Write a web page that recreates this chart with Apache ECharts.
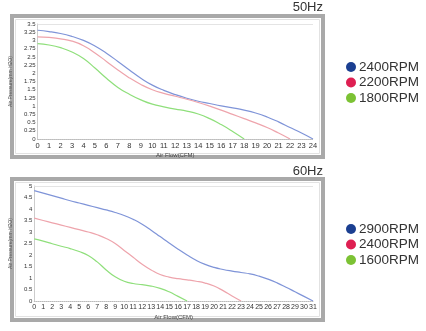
<!DOCTYPE html>
<html><head><meta charset="utf-8">
<script src="https://cdn.jsdelivr.net/npm/echarts@6/dist/echarts.min.js"></script>
<style>html,body{margin:0;padding:0;background:#fff}#c{width:426px;height:331px}</style>
</head><body><div id="c"></div>
<script>
// 50Hz panel
const flow50 = [0,1,2,3,4,5,6,7,8,9,10,11,12,13,14,15,16,17,18,19,20,21,22,23,24];
const rpm2400_50 = [3.31,3.27,3.21,3.12,3.0,2.83,2.61,2.36,2.1,1.85,1.64,1.48,1.35,1.24,1.15,1.08,1.01,0.95,0.88,0.79,0.67,0.52,0.35,0.18,0];
const rpm2200_50 = [3.11,3.09,3.05,2.98,2.84,2.62,2.36,2.1,1.86,1.66,1.5,1.39,1.3,1.21,1.11,1.0,0.88,0.75,0.62,0.49,0.35,0.18,0];
const rpm1800_50 = [2.9,2.86,2.78,2.65,2.45,2.16,1.85,1.57,1.36,1.19,1.06,0.98,0.91,0.85,0.76,0.62,0.44,0.23,0];
const yTicks50 = [0,0.25,0.5,0.75,1,1.25,1.5,1.75,2,2.25,2.5,2.75,3,3.25,3.5];
// 60Hz panel
const flow60 = [0,1,2,3,4,5,6,7,8,9,10,11,12,13,14,15,16,17,18,19,20,21,22,23,24,25,26,27,28,29,30,31];
const rpm2900_60 = [4.8,4.69,4.58,4.47,4.36,4.26,4.16,4.06,3.96,3.85,3.72,3.55,3.34,3.08,2.8,2.52,2.25,2.0,1.77,1.59,1.46,1.37,1.3,1.24,1.18,1.08,0.95,0.79,0.6,0.4,0.2,0];
const rpm2400_60 = [3.6,3.5,3.4,3.3,3.2,3.1,3.0,2.88,2.72,2.5,2.2,1.9,1.6,1.35,1.15,1.04,0.97,0.92,0.86,0.78,0.65,0.45,0.22,0];
const rpm1600_60 = [2.7,2.6,2.49,2.38,2.28,2.15,1.98,1.7,1.35,1.05,0.86,0.76,0.71,0.65,0.55,0.4,0.2,0];
const names50 = ['2400RPM','2200RPM','1800RPM'];
const names60 = ['2900RPM','2400RPM','1600RPM'];
const dotColors = ['#1b3f91','#de1f52','#7cc234'];
const lineColors = ['#7f94d8','#eea4ac','#8fdf7b'];

const pairs = (xs, ys) => ys.map((v,i)=>[xs[i], v]);
const chart = echarts.init(document.getElementById('c'), null, {renderer:'canvas'});

function xAxisCfg(gi, max, fs){
  return {gridIndex:gi, type:'value', min:0, max:max, interval:1,
    name:'Air Flow(CFM)', nameLocation:'middle', nameGap:13,
    nameTextStyle:{fontSize:6, color:'#444', fontFamily:'Liberation Sans'},
    axisLine:{show:true, lineStyle:{color:'#bbb', type:'dotted', width:1}},
    axisTick:{show:false}, splitLine:{show:false},
    axisLabel:{fontSize:fs, color:'#333', margin:3, fontFamily:'Liberation Sans', showMaxLabel:true, showMinLabel:true, hideOverlap:false}};
}
function yAxisCfg(gi, max, interval){
  return {gridIndex:gi, type:'value', min:0, max:max, interval:interval,
    name:'Air Pressure(mm H2O)', nameLocation:'middle', nameGap:14,
    nameTextStyle:{fontSize:5, color:'#555', fontFamily:'Liberation Sans'},
    axisLine:{show:true, lineStyle:{color:'#ccc', width:1}},
    axisTick:{show:false}, splitLine:{show:false},
    axisLabel:{fontSize:6, color:'#333', margin:2, fontFamily:'Liberation Sans'}};
}
function line(name, gi, data, ci, topVal){
  const s = {name:name, type:'line', xAxisIndex:gi, yAxisIndex:gi, data:data,
    smooth:0.5, showSymbol:false, symbol:'circle',
    itemStyle:{color:dotColors[ci]}, lineStyle:{color:lineColors[ci], width:1.2}};
  if (topVal !== undefined) {
    s.markLine = {silent:true, symbol:'none', label:{show:false},
      lineStyle:{color:'#e4e4e4', type:'solid', width:1}, data:[{yAxis:topVal}]};
  }
  return s;
}
function legendCfg(top, names){
  return {left:341, top:top, orient:'vertical', icon:'circle', itemWidth:10, itemHeight:10, itemGap:1.5,
     textStyle:{fontSize:13.5, lineHeight:10, color:'#333', fontFamily:'Liberation Sans', padding:[0,0,0,-2]},
     data:names.map((n,i)=>({name:n, itemStyle:{color:dotColors[i]}}))};
}

const option = {
  animation:false,
  grid:[
    {left:36, right:113, top:24, bottom:192},
    {left:33, right:113, top:186, bottom:30}
  ],
  xAxis:[xAxisCfg(0,24,7.5), xAxisCfg(1,31,7)],
  yAxis:[yAxisCfg(0,3.5,0.25), yAxisCfg(1,5,0.5)],
  legend:[legendCfg(55, names50), legendCfg(217, names60)],
  graphic:[
    {type:'rect', z:-1, shape:{x:12, y:16, width:311, height:141}, style:{fill:'#fff', stroke:'#a9a9a9', lineWidth:4}},
    {type:'rect', z:-1, shape:{x:15.5, y:19.5, width:304, height:134}, style:{fill:'#fff', stroke:'#e2e2e2', lineWidth:1}},
    {type:'rect', z:-1, shape:{x:12, y:179, width:311, height:141}, style:{fill:'#fff', stroke:'#a9a9a9', lineWidth:4}},
    {type:'rect', z:-1, shape:{x:15.5, y:182.5, width:304, height:134}, style:{fill:'#fff', stroke:'#e2e2e2', lineWidth:1}},
    {type:'text', right:103, top:1, style:{text:'50Hz', fontSize:13, fill:'#333', fontFamily:'Liberation Sans'}},
    {type:'text', right:103, top:165, style:{text:'60Hz', fontSize:13, fill:'#333', fontFamily:'Liberation Sans'}}
  ],
  series:[
    line(names50[0], 0, pairs(flow50, rpm2400_50), 0, 3.5),
    line(names50[1], 0, pairs(flow50, rpm2200_50), 1),
    line(names50[2], 0, pairs(flow50, rpm1800_50), 2),
    line(names60[0], 1, pairs(flow60, rpm2900_60), 0, 5),
    line(names60[1], 1, pairs(flow60, rpm2400_60), 1),
    line(names60[2], 1, pairs(flow60, rpm1600_60), 2)
  ]
};
chart.setOption(option);
</script></body></html>
